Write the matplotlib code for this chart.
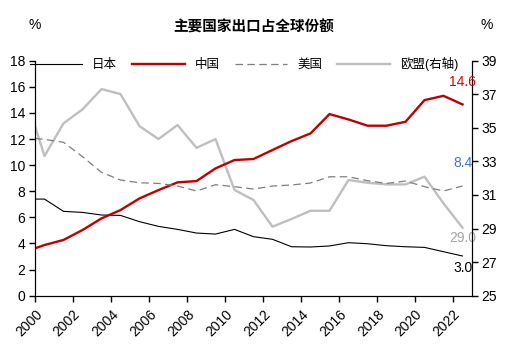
import matplotlib
matplotlib.use('Agg')
import matplotlib.pyplot as plt

plt.rcParams['font.family'] = ['Liberation Sans', 'Noto Sans CJK SC']
plt.rcParams['axes.unicode_minus'] = False

# data (first point on the axis edge, then mid-year points)
years = [2000] + [2000.5 + k for k in range(23)]
japan = [7.4, 7.4, 6.46, 6.38, 6.18, 6.15, 5.67, 5.31, 5.08, 4.8, 4.72, 5.08,
         4.52, 4.32, 3.75, 3.73, 3.81, 4.06, 3.98, 3.83, 3.75, 3.7, 3.37, 3.04]
china = [3.63, 3.88, 4.27, 5.03, 5.92, 6.56, 7.45, 8.09, 8.68, 8.78, 9.75, 10.39,
         10.47, 11.16, 11.84, 12.43, 13.91, 13.5, 13.02, 13.02, 13.32, 14.98, 15.31, 14.65]
usa = [12.05, 11.97, 11.75, 10.65, 9.45, 8.86, 8.65, 8.6, 8.4, 8.02, 8.5, 8.35,
       8.17, 8.4, 8.48, 8.63, 9.11, 9.11, 8.81, 8.6, 8.78, 8.35, 8.02, 8.4]
eu = [35.1, 33.32, 35.27, 36.1, 37.31, 37.01, 35.1, 34.33, 35.17, 33.81, 34.33, 31.3,
      30.7, 29.11, 29.57, 30.06, 30.06, 31.89, 31.73, 31.63, 31.63, 32.09, 30.5, 29.05]
xticks = list(range(2000, 2023, 2))

fig = plt.figure(figsize=(5.08, 3.55), dpi=100)
ax = fig.add_axes([35 / 508, 1 - 295.7 / 355, 437 / 508, 235 / 355])
ax2 = ax.twinx()

l1, = ax.plot(years, japan, color='black', lw=0.8, label='日本')
l2, = ax.plot(years, china, color='#C00000', lw=1.7, label='中国')
l3, = ax.plot(years, usa, color='#7F7F7F', lw=0.9, ls=(0, (6, 3.5)), label='美国')
l4, = ax2.plot(years, eu, color='#BFBFBF', lw=1.7, label='欧盟(右轴)')
ax.set_zorder(ax2.get_zorder() + 1)
ax.patch.set_visible(False)

ax.set_xlim(2000, 2023)
ax.set_ylim(0, 18)
ax.set_yticks(range(0, 19, 2))
ax2.set_ylim(25, 39)
ax2.set_yticks(range(25, 40, 2))
ax.set_xticks(xticks)
ax.set_xticklabels([str(y) for y in xticks], rotation=45, ha='right', rotation_mode='anchor')

for a in (ax, ax2):
    a.spines['top'].set_visible(False)
    a.tick_params(labelsize=10, length=4, width=1, direction='out', pad=3)
ax.tick_params(axis='x', pad=4)

# end labels
ax.annotate('14.6', (years[-1], china[-1]), xytext=(0, 22), textcoords='offset pixels',
            ha='center', va='center', color='#E00000', fontsize=10)
ax.annotate('8.4', (years[-1], usa[-1]), xytext=(0, 23), textcoords='offset pixels',
            ha='center', va='center', color='#4472C4', fontsize=10)
ax2.annotate('29.0', (years[-1], eu[-1]), xytext=(0, -10), textcoords='offset pixels',
             ha='center', va='center', color='#A6A6A6', fontsize=10)
ax.annotate('3.0', (years[-1], japan[-1]), xytext=(1, -12), textcoords='offset pixels',
            ha='center', va='center', color='black', fontsize=10)

fig.text(0.5, 1 - 27 / 355, '主要国家出口占全球份额', ha='center', va='center',
         fontsize=10.5, fontweight='bold', family='Noto Sans CJK SC')
fig.text(35 / 508, 1 - 25 / 355, '%', ha='center', va='center', fontsize=10)
fig.text(487 / 508, 1 - 25 / 355, '%', ha='center', va='center', fontsize=10)

fig.legend(handles=[l1, l2, l3, l4], loc='center', bbox_to_anchor=(0.48, 1 - 64 / 355),
           ncol=4, frameon=False, fontsize=9, handlelength=4.2, columnspacing=1.2,
           handletextpad=0.8)

fig.savefig('out.png', dpi=100)
